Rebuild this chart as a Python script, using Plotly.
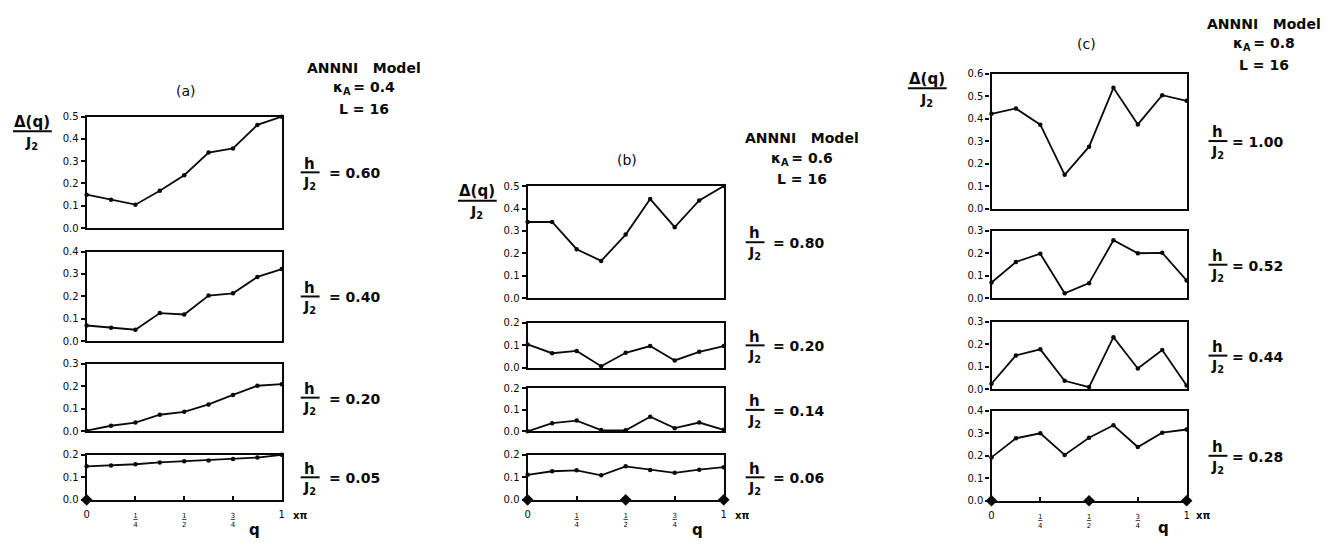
import plotly.graph_objects as go

# ---------------- data ----------------
q_values = [0.0, 0.125, 0.25, 0.375, 0.5, 0.625, 0.75, 0.875, 1.0]

a_h060 = [0.150, 0.127, 0.105, 0.167, 0.237, 0.339, 0.357, 0.463, 0.500]
a_h040 = [0.071, 0.061, 0.052, 0.126, 0.120, 0.204, 0.214, 0.287, 0.322]
a_h020 = [0.003, 0.025, 0.039, 0.074, 0.087, 0.120, 0.162, 0.203, 0.210]
a_h005 = [0.149, 0.153, 0.158, 0.166, 0.171, 0.175, 0.181, 0.188, 0.200]

b_h080 = [0.340, 0.340, 0.219, 0.167, 0.284, 0.442, 0.317, 0.436, 0.500]
b_h020 = [0.104, 0.065, 0.075, 0.007, 0.067, 0.097, 0.033, 0.071, 0.097]
b_h014 = [0.000, 0.038, 0.050, 0.006, 0.005, 0.068, 0.015, 0.041, 0.007]
b_h006 = [0.111, 0.127, 0.131, 0.109, 0.149, 0.133, 0.120, 0.134, 0.145]

c_h100 = [0.421, 0.445, 0.373, 0.150, 0.275, 0.537, 0.374, 0.504, 0.479]
c_h052 = [0.071, 0.162, 0.199, 0.023, 0.068, 0.259, 0.201, 0.203, 0.080]
c_h044 = [0.025, 0.151, 0.178, 0.038, 0.010, 0.232, 0.093, 0.175, 0.017]
c_h028 = [0.193, 0.278, 0.300, 0.204, 0.280, 0.336, 0.239, 0.303, 0.317]

a_h_labels = ["0.60", "0.40", "0.20", "0.05"]
b_h_labels = ["0.80", "0.20", "0.14", "0.06"]
c_h_labels = ["1.00", "0.52", "0.44", "0.28"]

a_ymax = [0.5, 0.4, 0.3, 0.2]
b_ymax = [0.5, 0.2, 0.2, 0.2]
c_ymax = [0.6, 0.3, 0.3, 0.4]

a_kappa, b_kappa, c_kappa = "0.4", "0.6", "0.8"
lattice_L = "16"

diamond_q_a = [0.0]
diamond_q_b = [0.0, 0.5, 1.0]
diamond_q_c = [0.0, 0.5, 1.0]

x_tickvals = [0.0, 0.25, 0.5, 0.75, 1.0]
frac_parts = [None, ("1", "4"), ("1", "2"), ("3", "4"), None]
end_labels = ["0", None, None, None, "1"]


def tick_label(end, frac):
    if end is not None:
        return "<span style='font-size:10px'>" + end + "</span>"
    num, den = frac
    return ("<span style='font-size:7px'><u>" + num + "</u></span><br>"
            "<span style='font-size:7px'>" + den + "</span>")


x_ticktext = [tick_label(e, f) for e, f in zip(end_labels, frac_parts)]

# ---------------- geometry (page pixels) ----------------
W, H = 1314, 532
OFF = 8


def px(x):
    return (x - OFF) / W


def py(y):
    return 1 - (y - OFF) / H


FONT = "DejaVu Sans"
BLACK = "#0a0a0a"

panels = [
    dict(name="(a)", kappa=a_kappa, x0=84, x1=280,
         boxes=[(113, 227), (251, 343), (366, 435), (459, 505)],
         series=[a_h060, a_h040, a_h020, a_h005], ymax=a_ymax, hl=a_h_labels,
         diam=diamond_q_a, title_xy=(184, 87), model_xy=(363, 63),
         dq_x=29, hx=308, eqx=325, qxy=(253, 536), pi_x=298),
    dict(name="(b)", kappa=b_kappa, x0=527, x1=724,
         boxes=[(184, 299), (324, 370), (391, 435), (459, 505)],
         series=[b_h080, b_h020, b_h014, b_h006], ymax=b_ymax, hl=b_h_labels,
         diam=diamond_q_b, title_xy=(627, 157), model_xy=(803, 135),
         dq_x=476, hx=755, eqx=771, qxy=(698, 536), pi_x=742),
    dict(name="(c)", kappa=c_kappa, x0=993, x1=1189,
         boxes=[(69, 207), (230, 299), (323, 392), (414, 506)],
         series=[c_h100, c_h052, c_h044, c_h028], ymax=c_ymax, hl=c_h_labels,
         diam=diamond_q_c, title_xy=(1088, 39), model_xy=(1267, 18),
         dq_x=928, hx=1220, eqx=1233, qxy=(1166, 534), pi_x=1205),
]

fig = go.Figure()
layout = dict(
    width=W, height=H,
    margin=dict(l=0, r=0, t=0, b=0),
    paper_bgcolor="white", plot_bgcolor="white",
    showlegend=False,
    font=dict(family=FONT, color=BLACK),
)
annotations = []
shapes = []


def note(x, y, text, size, xref="paper", xanchor="center", bold=True):
    annotations.append(dict(x=x, y=y, xref=xref, yref="paper",
                            text=("<b>" + text + "</b>") if bold else text,
                            showarrow=False, xanchor=xanchor, yanchor="middle",
                            font=dict(size=size, family=FONT, color=BLACK)))


idx = 0
for p in panels:
    n = len(p["boxes"])
    for k, (ytop, ybot) in enumerate(p["boxes"]):
        idx += 1
        xa = "x" if idx == 1 else f"x{idx}"
        ya = "y" if idx == 1 else f"y{idx}"
        xkey = "xaxis" if idx == 1 else f"xaxis{idx}"
        ykey = "yaxis" if idx == 1 else f"yaxis{idx}"
        bottom = (k == n - 1)
        ymax = p["ymax"][k]

        fig.add_trace(go.Scatter(
            x=q_values, y=p["series"][k], xaxis=xa, yaxis=ya,
            mode="lines+markers",
            line=dict(color=BLACK, width=1.8),
            marker=dict(color=BLACK, size=4.5),
            cliponaxis=False, hoverinfo="skip",
        ))
        if bottom:
            fig.add_trace(go.Scatter(
                x=p["diam"], y=[0.0] * len(p["diam"]), xaxis=xa, yaxis=ya,
                mode="markers",
                marker=dict(color=BLACK, size=9, symbol="diamond"),
                cliponaxis=False, hoverinfo="skip",
            ))

        xaxis = dict(
            domain=[px(p["x0"]), px(p["x1"])], range=[0, 1],
            anchor=ya, showgrid=False, zeroline=False,
            showline=True, linecolor=BLACK, linewidth=2.2, mirror=True,
            fixedrange=True,
        )
        if bottom:
            xaxis.update(
                tickmode="array", tickvals=x_tickvals, ticktext=x_ticktext,
                ticks="inside", ticklen=4, tickwidth=2, tickcolor=BLACK,
                tickfont=dict(family=FONT, size=7, color=BLACK),
                ticklabelstandoff=8,
            )
        else:
            xaxis.update(showticklabels=False, ticks="")
        layout[xkey] = xaxis

        layout[ykey] = dict(
            domain=[py(ybot), py(ytop)], range=[0, ymax],
            anchor=xa, showgrid=False, zeroline=False,
            showline=True, linecolor=BLACK, linewidth=2.2, mirror=True,
            tickmode="linear", tick0=0, dtick=0.1, tickformat=".1f",
            ticks="outside", ticklen=4, tickwidth=1.5, tickcolor=BLACK,
            tickfont=dict(family=FONT, size=10, color=BLACK),
            fixedrange=True,
        )

        # h / J2 labels
        mid = (ytop + ybot) / 2
        hx = p["hx"]
        note(px(hx), py(mid - 9), "h", 15)
        note(px(hx), py(mid + 11), "J<sub>2</sub>", 14)
        shapes.append(dict(type="line", xref="paper", yref="paper",
                           x0=px(hx - 9), x1=px(hx + 10), y0=py(mid), y1=py(mid),
                           line=dict(color=BLACK, width=2)))
        note(px(p["eqx"]), py(mid + 1), "= " + p["hl"][k], 14, xanchor="left")

    # panel title, model text
    tx, ty = p["title_xy"]
    note(px(tx), py(ty), p["name"], 14, bold=False)
    mx, my = p["model_xy"]
    note(px(mx), py(my), "ANNNI\u00a0\u00a0\u00a0Model", 14)
    note(px(mx), py(my + 21), "\u03ba<sub>A</sub>\u2009= " + p["kappa"], 14)
    note(px(mx), py(my + 42), "L = " + lattice_L, 14)

    # Delta(q)/J2 axis label
    top = p["boxes"][0][0]
    dx = p["dq_x"]
    note(px(dx), py(top + 5), "\u0394(q)", 15)
    shapes.append(dict(type="line", xref="paper", yref="paper",
                       x0=px(dx - 19), x1=px(dx + 20), y0=py(top + 15), y1=py(top + 15),
                       line=dict(color=BLACK, width=2)))
    note(px(dx), py(top + 27), "J<sub>2</sub>", 14)

    # q label and x pi
    qx, qy = p["qxy"]
    note(px(qx), py(qy), "q", 15)
    note(px(p["pi_x"]), py(521), "x\u03c0", 10)

layout["annotations"] = annotations
layout["shapes"] = shapes
fig.update_layout(**layout)

fig.write_html("out.html")
